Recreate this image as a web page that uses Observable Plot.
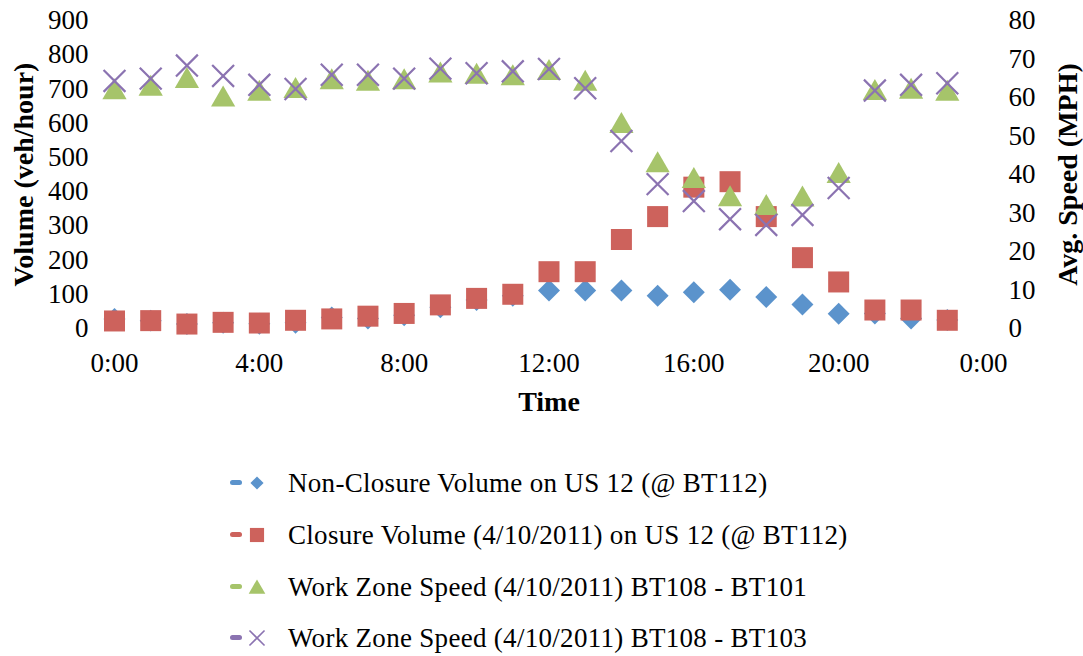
<!DOCTYPE html>
<html>
<head>
<meta charset="utf-8">
<script src="https://cdn.jsdelivr.net/npm/d3@7"></script>
<script src="https://cdn.jsdelivr.net/npm/@observablehq/plot@0.6"></script>
<style>
  body { margin: 0; background: #fff; }
  #chart { position: relative; width: 1083px; height: 656px; background: #fff; font-family: "Liberation Serif", serif; }
  #chart svg.layer { position: absolute; left: 0; top: 0; }
  .legend-row { position: absolute; left: 0; height: 36px; width: 1083px; }
  .legend-row .dash { position: absolute; left: 230px; top: 15px; width: 12px; height: 5px; border-radius: 3px; }
  .legend-row svg { position: absolute; left: 248px; top: 9px; }
  .legend-row .label { position: absolute; left: 288px; top: 0; line-height: 36px; font-size: 27px; letter-spacing: 0.3px; color: #000; white-space: nowrap; }
</style>
</head>
<body>
<div id="chart"></div>
<script>
// Hourly observations on US 12 (hour of day)
const hours = [0, 1, 2, 3, 4, 5, 6, 7, 8, 9, 10, 11, 12, 13, 14, 15, 16, 17, 18, 19, 20, 21, 22, 23];
// Volumes (veh/hour) at BT112
const nonClosureVolume = [28, 23, 13, 17, 14, 17, 32, 29, 39, 62, 83, 96, 111, 111, 111, 96, 106, 113, 92, 70, 43, 44, 29, 25];
const closureVolume = [22, 23, 13, 18, 16, 24, 28, 36, 44, 69, 88, 100, 166, 166, 260, 327, 413, 429, 327, 207, 136, 54, 54, 24];
// Work zone average speeds (MPH) on 4/10/2011
const speedBT101 = [62.3, 63.2, 65.2, 60.4, 61.9, 62.6, 64.9, 64.5, 64.9, 66.6, 66.3, 65.9, 67.3, 64.5, 53.5, 43.3, 39.2, 34.5, 32.2, 34.4, 40.5, 62.1, 62.4, 61.9];
const speedBT103 = [64.3, 64.9, 68.3, 65.6, 63.3, 62.2, 65.9, 65.9, 64.9, 67.5, 66.3, 66.8, 67.4, 62.4, 48.7, 37.5, 33.1, 28.4, 26.9, 29.5, 36.5, 61.8, 63.3, 63.7];

// Axis ticks and labels
const timeTicks = [0, 4, 8, 12, 16, 20, 24];
const timeLabels = ["0:00", "4:00", "8:00", "12:00", "16:00", "20:00", "0:00"];
const volumeTicks = [0, 100, 200, 300, 400, 500, 600, 700, 800, 900];
const speedTicks = [0, 10, 20, 30, 40, 50, 60, 70, 80];

const seriesNames = [
  "Non-Closure Volume on US 12 (@ BT112)",
  "Closure Volume (4/10/2011) on US 12 (@ BT112)",
  "Work Zone Speed (4/10/2011) BT108 - BT101",
  "Work Zone Speed (4/10/2011) BT108 - BT103"
];

const BLUE = "#5b93cc", RED = "#cd625c", GREEN = "#a6c46a", PURPLE = "#8b73b1";
const FONT = "'Liberation Serif', serif";

const rows = hours.map((h, i) => ({
  hour: h,
  nonClosure: nonClosureVolume[i],
  closure: closureVolume[i],
  bt101: speedBT101[i],
  bt103: speedBT103[i]
}));

const W = 1083, H = 420;
const frame = { width: W, height: H, marginTop: 20, marginBottom: 92, marginLeft: 114, marginRight: 100 };
const baseStyle = { fontFamily: FONT, fontSize: "27px", color: "#000", background: "transparent", overflow: "visible" };

// Volume layer: time axis, left axis, diamonds and squares
const volumePlot = Plot.plot({
  ...frame,
  style: baseStyle,
  x: { domain: [0, 24] },
  y: { domain: [0, 900] },
  marks: [
    Plot.axisX({ ticks: timeTicks, tickFormat: d => timeLabels[timeTicks.indexOf(d)], tickSize: 0, tickPadding: 24, label: null }),
    Plot.axisY({ ticks: volumeTicks, tickSize: 0, tickPadding: 26, label: null }),
    Plot.text(["Time"], { text: d => d, frameAnchor: "bottom", dy: 82, textAnchor: "middle", fontWeight: "bold", fontSize: 28 }),
    Plot.text(["Volume (veh/hour)"], { text: d => d, frameAnchor: "left", rotate: -90, dx: -90, textAnchor: "middle", fontWeight: "bold", fontSize: 28 }),
    Plot.dot(rows, { x: "hour", y: "nonClosure", symbol: "diamond2", r: 9.9, fill: BLUE, stroke: "none" }),
    Plot.dot(rows, { x: "hour", y: "closure", symbol: "square", r: 11.85, fill: RED, stroke: "none" })
  ]
});

// Speed layer: right axis, triangles and crosses
const speedPlot = Plot.plot({
  ...frame,
  style: baseStyle,
  x: { domain: [0, 24], axis: null },
  y: { domain: [0, 80] },
  marks: [
    Plot.axisY({ anchor: "right", ticks: speedTicks, tickSize: 0, tickPadding: 25, label: null }),
    Plot.text(["Avg. Speed (MPH)"], { text: d => d, frameAnchor: "right", rotate: -90, dx: 85, textAnchor: "middle", fontWeight: "bold", fontSize: 28 }),
    Plot.dot(rows, { x: "hour", y: "bt101", symbol: "triangle", r: 9.0, dy: 3.5, fill: GREEN, stroke: "none" }),
    Plot.dot(rows, { x: "hour", y: "bt103", symbol: "times", r: 10, stroke: PURPLE, strokeWidth: 2.2, fill: "none" })
  ]
});

const chart = document.getElementById("chart");
volumePlot.classList.add("layer");
speedPlot.classList.add("layer");
chart.appendChild(volumePlot);
chart.appendChild(speedPlot);

// Legend below the chart
const legendItems = [
  { name: seriesNames[0], color: BLUE, symbol: d3.symbolDiamond2, size: 110, filled: true },
  { name: seriesNames[1], color: RED, symbol: d3.symbolSquare, size: 200, filled: true },
  { name: seriesNames[2], color: GREEN, symbol: d3.symbolTriangle, size: 120, filled: true, dy: 2 },
  { name: seriesNames[3], color: PURPLE, symbol: d3.symbolTimes, size: 150, filled: false }
];
const legendCenters = [483, 535, 587, 638];
legendItems.forEach((item, i) => {
  const row = document.createElement("div");
  row.className = "legend-row";
  row.style.top = (legendCenters[i] - 18) + "px";
  const dash = document.createElement("div");
  dash.className = "dash";
  dash.style.background = item.color;
  row.appendChild(dash);
  const svg = d3.create("svg").attr("width", 18).attr("height", 18);
  svg.append("path")
    .attr("transform", `translate(9,${9 + (item.dy || 0)})`)
    .attr("d", d3.symbol(item.symbol, item.size)())
    .attr("fill", item.filled ? item.color : "none")
    .attr("stroke", item.filled ? "none" : item.color)
    .attr("stroke-width", 1.6);
  row.appendChild(svg.node());
  const label = document.createElement("div");
  label.className = "label";
  label.textContent = item.name;
  row.appendChild(label);
  chart.appendChild(row);
});
</script>
</body>
</html>
